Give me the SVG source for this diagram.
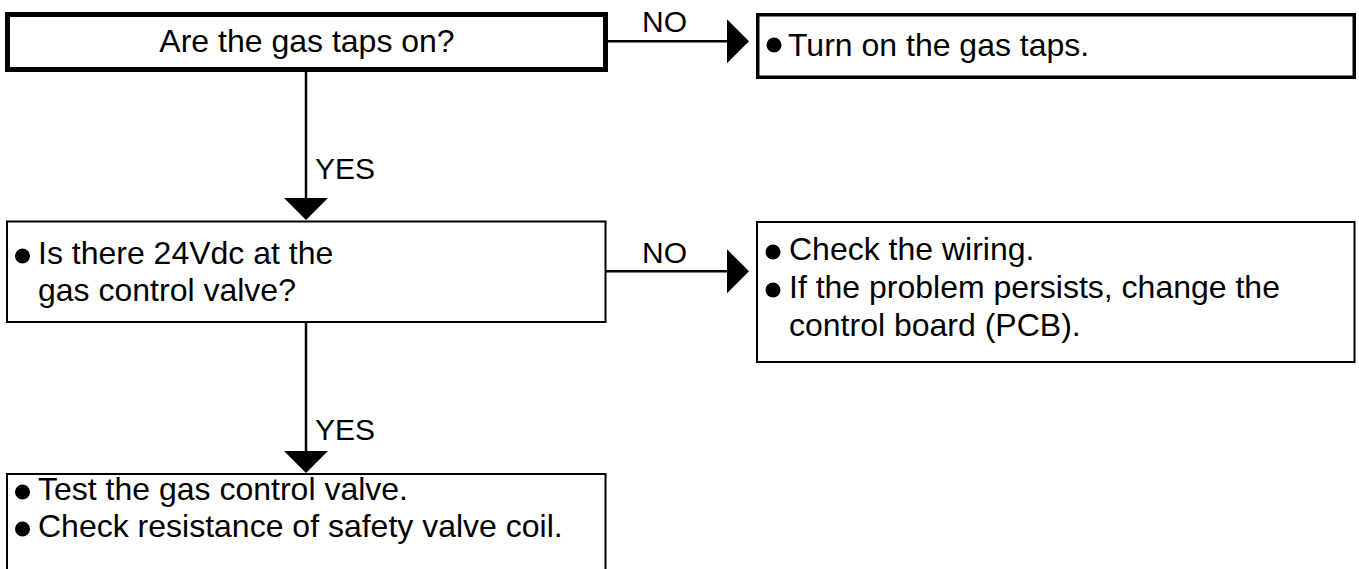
<svg xmlns="http://www.w3.org/2000/svg" width="1359" height="569" viewBox="0 0 1359 569">
  <style>
    .box { fill: #ffffff; stroke: #000000; stroke-width: 2; }
    .box-thick { fill: #ffffff; stroke: #000000; stroke-width: 5; }
    .box-mid { fill: #ffffff; stroke: #000000; stroke-width: 3.5; }
    .txt { font-family: "Liberation Sans", Arial, sans-serif; font-size: 32px; fill: #000000; }
    .lbl { font-family: "Liberation Sans", Arial, sans-serif; font-size: 30px; fill: #000000; }
    .line { fill: none; stroke: #000000; stroke-width: 2.5; }
    .head { fill: #000000; }
    .dot { fill: #000000; }
  </style>
  <rect width="1359" height="569" fill="#ffffff"/>

  <!-- connectors -->
  <g id="connectors">
    <!-- taps on? -> yes -->
    <line class="line" x1="306" y1="72" x2="306" y2="200"/>
    <polygon class="head" points="284,198 328,198 306,220"/>
    <text class="lbl" x="315" y="179">YES</text>
    <!-- taps on? -> no -->
    <line class="line" x1="608" y1="41.3" x2="729" y2="41.3"/>
    <polygon class="head" points="727,19.3 727,63.3 749,41.3"/>
    <text class="lbl" x="642" y="32">NO</text>
    <!-- 24Vdc? -> yes -->
    <line class="line" x1="306" y1="322" x2="306" y2="453"/>
    <polygon class="head" points="284,451 328,451 306,473"/>
    <text class="lbl" x="315" y="440">YES</text>
    <!-- 24Vdc? -> no -->
    <line class="line" x1="606" y1="271.3" x2="729" y2="271.3"/>
    <polygon class="head" points="727,249.3 727,293.3 749,271.3"/>
    <text class="lbl" x="642" y="263">NO</text>
  </g>

  <!-- decision: gas taps -->
  <g id="q-gas-taps">
    <rect class="box-thick" x="7.5" y="14.5" width="598" height="55"/>
    <text class="txt" x="307" y="52" text-anchor="middle">Are the gas taps on?</text>
  </g>

  <!-- action: turn on taps -->
  <g id="a-turn-on">
    <rect class="box-mid" x="757.75" y="14.75" width="596.5" height="62.5"/>
    <circle class="dot" cx="774" cy="45" r="7.5"/>
    <text class="txt" x="788" y="56">Turn on the gas taps.</text>
  </g>

  <!-- decision: 24Vdc -->
  <g id="q-24vdc">
    <rect class="box" x="7" y="221.5" width="598.5" height="100.5"/>
    <circle class="dot" cx="22.5" cy="256" r="7.5"/>
    <text class="txt" x="38" y="264">Is there 24Vdc at the</text>
    <text class="txt" x="38" y="301">gas control valve?</text>
  </g>

  <!-- action: wiring / PCB -->
  <g id="a-wiring">
    <rect class="box" x="757" y="222" width="597.5" height="140"/>
    <circle class="dot" cx="773" cy="252" r="7.5"/>
    <text class="txt" x="789" y="260">Check the wiring.</text>
    <circle class="dot" cx="773" cy="290" r="7.5"/>
    <text class="txt" x="789" y="298">If the problem persists, change the</text>
    <text class="txt" x="789" y="336">control board (PCB).</text>
  </g>

  <!-- action: test valve -->
  <g id="a-test-valve">
    <rect class="box" x="7" y="474" width="598.5" height="120"/>
    <circle class="dot" cx="22.5" cy="492" r="7.5"/>
    <text class="txt" x="38" y="500">Test the gas control valve.</text>
    <circle class="dot" cx="22.5" cy="529" r="7.5"/>
    <text class="txt" x="38" y="537">Check resistance of safety valve coil.</text>
  </g>
</svg>
